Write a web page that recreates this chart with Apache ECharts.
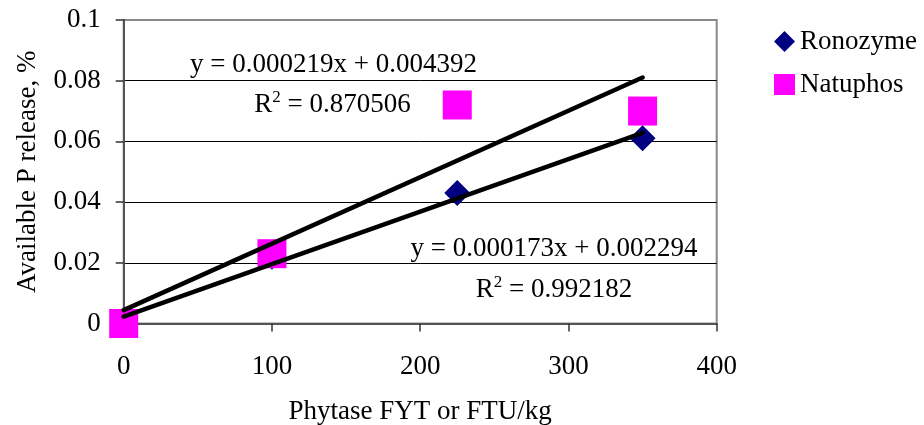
<!DOCTYPE html>
<html>
<head>
<meta charset="utf-8">
<script src="https://cdn.jsdelivr.net/npm/echarts@6/dist/echarts.min.js"></script>
<style>
html,body{margin:0;padding:0;background:#fff;}
#chart{width:924px;height:425px;}
</style>
</head>
<body>
<div id="chart"></div>
<script>
// Data
var phytaseDose = [0, 100, 225, 350];
var ronozyme = [0, 0.022, 0.043, 0.061];
var natuphos = [0, 0.023, 0.072, 0.070];
// Trendline coefficients [slope, intercept]
var ronozymeTrend = [0.000173, 0.002294];
var natuphosTrend = [0.000219, 0.004392];
var trendRange = [0, 350];
var xTicks = [0, 100, 200, 300, 400];
var yTicks = [0, 0.02, 0.04, 0.06, 0.08, 0.1];

var FONT = '"Liberation Serif","Times New Roman",serif';
var FS = 27;

function pairs(xs, ys) { return xs.map(function (x, i) { return [x, ys[i]]; }); }
function trendPts(c) { return trendRange.map(function (x) { return [x, c[0] * x + c[1]]; }); }

var supRich = {r: {fontSize: FS, fontFamily: FONT, fill: '#000'}, s: {fontSize: 17, fontFamily: FONT, fill: '#000', verticalAlign: 'top', padding: [0, 0, 14, 0]}};

var chart = echarts.init(document.getElementById('chart'), null, {renderer: 'canvas'});
var option = {
  animation: false,
  backgroundColor: '#fff',
  textStyle: {fontFamily: FONT},
  grid: {left: 123.7, right: 207.3, top: 20, bottom: 101.5, containLabel: false, outerBoundsMode: 'none',
         show: true, borderColor: '#888', borderWidth: 2, backgroundColor: 'transparent'},
  legend: {
    orient: 'vertical', left: 769, top: 23, itemWidth: 21, itemHeight: 21, itemGap: 16,
    textStyle: {fontFamily: FONT, fontSize: FS, color: '#000'},
    data: [{name: 'Ronozyme', icon: 'diamond'}, {name: 'Natuphos', icon: 'rect'}]
  },
  xAxis: {
    type: 'value', min: xTicks[0], max: xTicks[xTicks.length - 1], interval: 100,
    name: 'Phytase FYT or FTU/kg', nameLocation: 'middle', nameGap: 75,
    nameTextStyle: {fontFamily: FONT, fontSize: FS, color: '#000'},
    axisLine: {show: true, lineStyle: {color: '#555', width: 2}},
    axisTick: {show: true, inside: false, length: 8, lineStyle: {color: '#333', width: 1.5}},
    axisLabel: {margin: 30, fontFamily: FONT, fontSize: FS, color: '#000'},
    splitLine: {show: false}
  },
  yAxis: {
    type: 'value', min: yTicks[0], max: yTicks[yTicks.length - 1], interval: 0.02,
    name: 'Available P release, %', nameLocation: 'middle', nameGap: 82,
    nameTextStyle: {fontFamily: FONT, fontSize: FS, color: '#000'},
    axisLine: {show: true, lineStyle: {color: '#555', width: 2}},
    axisTick: {show: true, inside: false, length: 8, lineStyle: {color: '#333', width: 1.5}},
    axisLabel: {margin: 23, fontFamily: FONT, fontSize: FS, color: '#000'},
    splitLine: {show: true, showMinLine: false, showMaxLine: false, lineStyle: {color: '#000', width: 1}}
  },
  series: [
    {name: 'Ronozyme', type: 'scatter', symbol: 'diamond', symbolSize: 26, clip: false, z: 2,
     itemStyle: {color: '#000080', opacity: 1}, data: pairs(phytaseDose, ronozyme)},
    {name: 'Natuphos', type: 'scatter', symbol: 'rect', symbolSize: 29, clip: false, z: 3,
     itemStyle: {color: '#FF00FF', opacity: 1}, data: pairs(phytaseDose, natuphos)},
    {name: 'Ronozyme trend', type: 'line', symbol: 'none', z: 4, silent: true,
     lineStyle: {color: '#000', width: 4.5, cap: 'round'}, data: trendPts(ronozymeTrend)},
    {name: 'Natuphos trend', type: 'line', symbol: 'none', z: 4, silent: true,
     lineStyle: {color: '#000', width: 4.5, cap: 'round'}, data: trendPts(natuphosTrend)}
  ],
  graphic: [
    {type: 'text', x: 333.5, y: 65.4, z: 10, style: {text: 'y = 0.000219x + 0.004392', font: FS + 'px ' + FONT, fill: '#000', align: 'center', verticalAlign: 'middle'}},
    {type: 'text', x: 332.5, y: 105, z: 10, style: {text: '{r|R}{s|2}{r| = 0.870506}', font: FS + 'px ' + FONT, fill: '#000', align: 'center', verticalAlign: 'middle', rich: supRich}},
    {type: 'text', x: 554, y: 248.7, z: 10, style: {text: 'y = 0.000173x + 0.002294', font: FS + 'px ' + FONT, fill: '#000', align: 'center', verticalAlign: 'middle'}},
    {type: 'text', x: 554, y: 289.5, z: 10, style: {text: '{r|R}{s|2}{r| = 0.992182}', font: FS + 'px ' + FONT, fill: '#000', align: 'center', verticalAlign: 'middle', rich: supRich}}
  ]
};
chart.setOption(option);
</script>
</body>
</html>
